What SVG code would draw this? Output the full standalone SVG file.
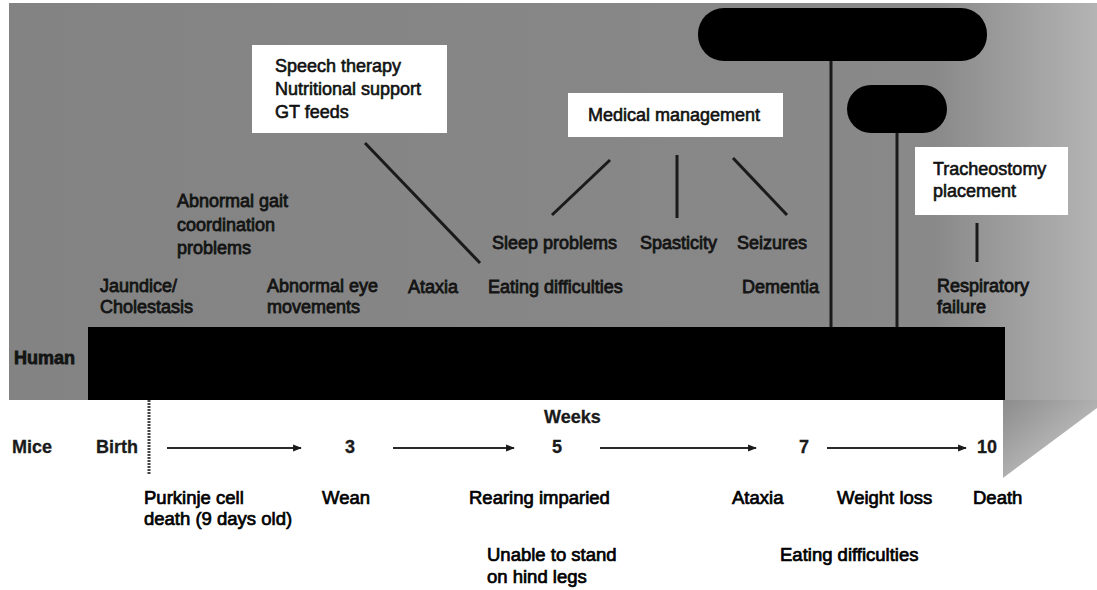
<svg xmlns="http://www.w3.org/2000/svg" width="1097" height="590" viewBox="0 0 1097 590">
<style>
text{font-family:"Liberation Sans",Arial,sans-serif;font-size:18px;fill:#111}
.g{fill:#141414;stroke:#141414;stroke-width:0.8}
.w{fill:#111;stroke:#111;stroke-width:0.6}
.b{font-size:18.5px;fill:#000;stroke:#000;stroke-width:0.7}
.m{font-weight:bold;font-size:18px;fill:#1a1a1a;stroke:#1a1a1a;stroke-width:0.3}
.box{fill:#fff}
.pill{fill:#000}
.ln{stroke:#1a1a1a;stroke-width:3;fill:none}
.arr{stroke:#2a2a2a;stroke-width:2.2;fill:none;marker-end:url(#ah)}
</style>
<defs>
<linearGradient id="bg" x1="0" y1="0" x2="1" y2="0">
<stop offset="0" stop-color="#838383"/>
<stop offset="0.85" stop-color="#898989"/>
<stop offset="1" stop-color="#b4b4b4"/>
</linearGradient>
<linearGradient id="tri" x1="0" y1="0" x2="1" y2="1">
<stop offset="0" stop-color="#8c8c8c"/>
<stop offset="1" stop-color="#d2d2d2"/>
</linearGradient>
<marker id="ah" viewBox="0 0 10 10" refX="9" refY="5" markerWidth="4" markerHeight="4" orient="auto">
<path d="M0,1 L10,5 L0,9 Z" fill="#1a1a1a"/>
</marker>
</defs>
<rect width="1097" height="590" fill="#fff"/>
<g id="background">
<rect x="9" y="3" width="1088" height="397" fill="url(#bg)"/>
<polygon points="1003,400 1097,400 1097,408 1003,478" fill="url(#tri)"/>
</g>
<g id="human-bar">
<rect x="88" y="327" width="917" height="73" fill="#000"/>
<text x="14" y="364" class="g" font-weight="bold" font-size="17px">Human</text>
</g>
<g id="connectors">
<line class="ln" x1="831" y1="60" x2="831" y2="327" stroke-width="4"/>
<line class="ln" x1="897" y1="133" x2="897" y2="327" stroke-width="4"/>
<line class="ln" x1="365" y1="143" x2="480" y2="263"/>
<line class="ln" x1="610" y1="160" x2="552" y2="215"/>
<line class="ln" x1="677" y1="155" x2="677" y2="218"/>
<line class="ln" x1="733" y1="158" x2="787" y2="215"/>
<line class="ln" x1="977" y1="223" x2="977" y2="262" stroke-width="3.5"/>
<line x1="149" y1="400" x2="149" y2="475" stroke="#444" stroke-width="3" stroke-dasharray="2 1"/>
<line class="arr" x1="167" y1="448" x2="301" y2="448"/>
<line class="arr" x1="393" y1="448" x2="514" y2="448"/>
<line class="arr" x1="600" y1="448" x2="756" y2="448"/>
<line class="arr" x1="827" y1="448" x2="966" y2="448"/>
</g>
<g id="pill-top"><rect class="pill" x="698" y="8" width="289" height="53" rx="26"/></g>
<g id="pill-second"><rect class="pill" x="847" y="85" width="100" height="48" rx="24"/></g>
<g id="speech-box">
<rect class="box" x="252" y="45" width="195" height="88"/>
<text class="w" x="275" y="72">Speech therapy</text>
<text class="w" x="275" y="95">Nutritional support</text>
<text class="w" x="275" y="118">GT feeds</text>
</g>
<g id="medical-box">
<rect class="box" x="568" y="93" width="215" height="44"/>
<text class="w" x="588" y="121">Medical management</text>
</g>
<g id="trach-box">
<rect class="box" x="915" y="147" width="153" height="68"/>
<text class="w" x="933" y="175">Tracheostomy</text>
<text class="w" x="933" y="197">placement</text>
</g>
<g id="human-symptoms">
<text class="g" x="177" y="207">Abnormal gait</text>
<text class="g" x="177" y="231">coordination</text>
<text class="g" x="177" y="254">problems</text>
<text class="g" x="100" y="292">Jaundice/</text>
<text class="g" x="100" y="313">Cholestasis</text>
<text class="g" x="267" y="292">Abnormal eye</text>
<text class="g" x="267" y="313">movements</text>
<text class="g" x="408" y="293">Ataxia</text>
<text class="g" x="488" y="293">Eating difficulties</text>
<text class="g" x="742" y="293">Dementia</text>
<text class="g" x="492" y="249">Sleep problems</text>
<text class="g" x="640" y="249">Spasticity</text>
<text class="g" x="737" y="249">Seizures</text>
<text class="g" x="937" y="292">Respiratory</text>
<text class="g" x="937" y="313">failure</text>
</g>
<g id="mice-axis">
<text class="m" x="544" y="423">Weeks</text>
<text class="m" x="12" y="453">Mice</text>
<text class="m" x="96" y="453">Birth</text>
<text class="m" x="345" y="453">3</text>
<text class="m" x="552" y="453">5</text>
<text class="m" x="799" y="453">7</text>
<text class="m" x="977" y="453">10</text>
</g>
<g id="mice-events">
<text class="b" x="144" y="504">Purkinje cell</text>
<text class="b" x="144" y="525">death (9 days old)</text>
<text class="b" x="322" y="504">Wean</text>
<text class="b" x="469" y="504">Rearing imparied</text>
<text class="b" x="732" y="504">Ataxia</text>
<text class="b" x="837" y="504">Weight loss</text>
<text class="b" x="973" y="504">Death</text>
<text class="b" x="487" y="561">Unable to stand</text>
<text class="b" x="487" y="583">on hind legs</text>
<text class="b" x="780" y="561">Eating difficulties</text>
</g>
</svg>
